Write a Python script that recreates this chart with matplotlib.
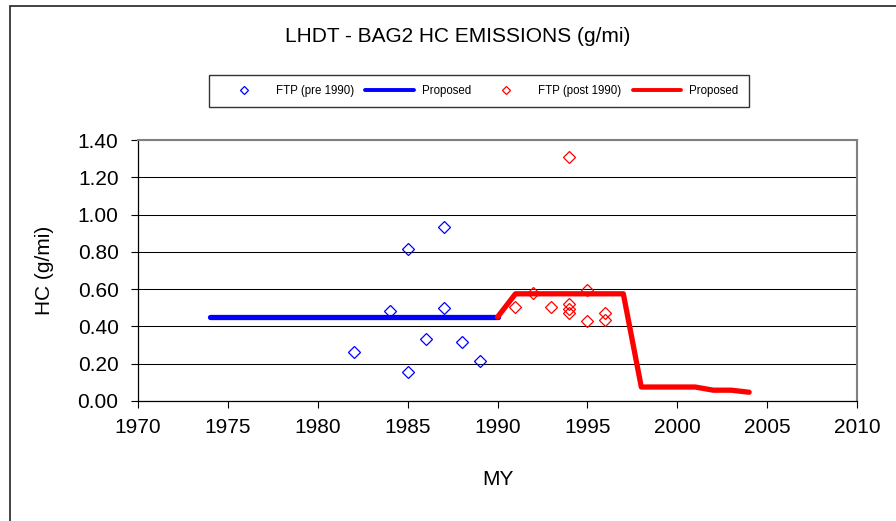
import matplotlib
matplotlib.use("Agg")
import matplotlib.pyplot as plt
from matplotlib.patches import Rectangle

plt.rcParams['font.family'] = ['Liberation Sans', 'DejaVu Sans']

# FTP test results before 1990
pre_years = [1982, 1984, 1985, 1985, 1986, 1987, 1987, 1988, 1989]
pre_hc = [0.265, 0.485, 0.815, 0.157, 0.333, 0.932, 0.497, 0.318, 0.215]

# FTP test results after 1990
post_years = [1991, 1992, 1993, 1994, 1994, 1994, 1994, 1995, 1995, 1996, 1996]
post_hc = [0.503, 0.578, 0.505, 1.307, 0.518, 0.495, 0.472, 0.597, 0.431, 0.474, 0.434]

# Proposed standards
prop_pre_years = [1974, 1990]
prop_pre_hc = [0.45, 0.45]
prop_post_years = [1990, 1991, 1997, 1998, 2001, 2002, 2003, 2004]
prop_post_hc = [0.45, 0.575, 0.575, 0.075, 0.075, 0.058, 0.058, 0.047]

x_ticks = [1970, 1975, 1980, 1985, 1990, 1995, 2000, 2005, 2010]
y_ticks = [0.0, 0.2, 0.4, 0.6, 0.8, 1.0, 1.2, 1.4]

W, H = 896, 521
fig = plt.figure(figsize=(W / 100, H / 100), dpi=100)

# chart-area border (right and bottom edges run off the canvas)
fig.patches.append(Rectangle((9.5 / W, -0.2), 1.2, 1.2 - 6.0 / H, transform=fig.transFigure,
                             fill=False, edgecolor='#222222', linewidth=1.2))

left, right, top, bottom = 138, 857, 140, 401
ax = fig.add_axes([left / W, 1 - bottom / H, (right - left) / W, (bottom - top) / H])

ax.set_xlim(1970, 2010)
ax.set_ylim(0, 1.4)
ax.set_xticks(x_ticks)
ax.set_yticks(y_ticks)
ax.set_yticklabels([f"{v:.2f}" for v in y_ticks])
ax.tick_params(axis='both', labelsize=15, direction='out', length=5, width=0.8, colors='black')
ax.tick_params(axis='x', pad=7)
ax.tick_params(axis='y', pad=9)

ax.grid(axis='y', color='black', linewidth=0.75)
ax.set_axisbelow(True)
for side in ['top', 'right']:
    ax.spines[side].set_color('#808080')
    ax.spines[side].set_linewidth(1.5)
for side in ['left', 'bottom']:
    ax.spines[side].set_color('black')
    ax.spines[side].set_linewidth(0.9)

l1, = ax.plot(pre_years, pre_hc, linestyle='none', marker='D', markersize=6.2,
              markerfacecolor='none', markeredgecolor='#0000FF', markeredgewidth=0.9,
              label='FTP (pre 1990)', zorder=4)
l2, = ax.plot(prop_pre_years, prop_pre_hc, color='#0000FF', linewidth=3.8,
              solid_capstyle='round', label='Proposed', zorder=3)
l3, = ax.plot(post_years, post_hc, linestyle='none', marker='D', markersize=6.2,
              markerfacecolor='none', markeredgecolor='#FF0000', markeredgewidth=0.9,
              label='FTP (post 1990)', zorder=4)
l4, = ax.plot(prop_post_years, prop_post_hc, color='#FF0000', linewidth=3.8,
              solid_capstyle='round', solid_joinstyle='round', label='Proposed', zorder=3)

ax.set_xlabel('MY', fontsize=15, labelpad=24)
ax.set_ylabel('HC (g/mi)', fontsize=15, labelpad=17)

fig.text(458 / W, 1 - 36 / H, 'LHDT - BAG2 HC EMISSIONS (g/mi)', fontsize=15,
         ha='center', va='center')

leg = fig.legend(handles=[l1, l2, l3, l4], ncol=4, loc='center',
                 bbox_to_anchor=(479 / W, 1 - 91 / H), fontsize=8.3,
                 frameon=True, fancybox=False, edgecolor='black',
                 handlelength=4.2, handletextpad=0.7, columnspacing=0.95,
                 borderpad=0.9, markerscale=0.6, borderaxespad=0)
leg.get_frame().set_linewidth(1.0)
for h in leg.get_lines():
    if h.get_linestyle() != 'None':
        h.set_linewidth(2.8)

fig.savefig('out.png', dpi=100)
